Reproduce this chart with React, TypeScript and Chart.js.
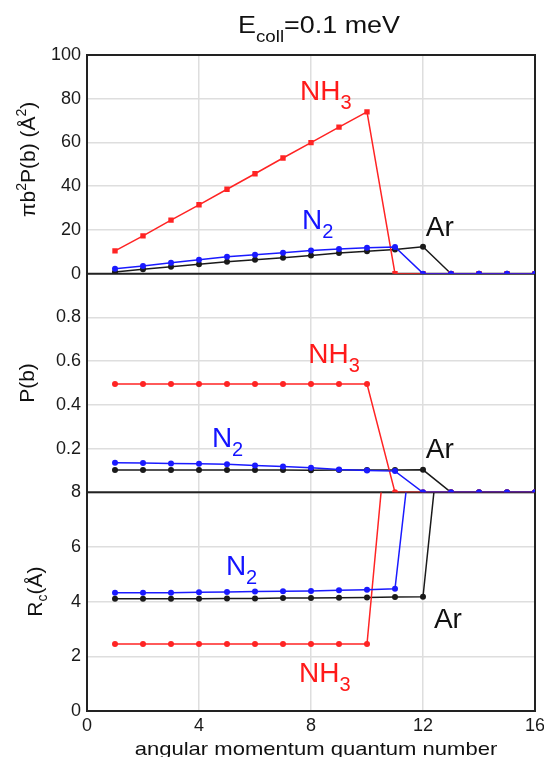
import React, { useEffect, useRef } from "react";
import { Chart, registerables } from "chart.js";

Chart.register(...registerables);

// ---------- data ----------
const angularMomentum = [1, 2, 3, 4, 5, 6, 7, 8, 9, 10, 11, 12, 13, 14, 15, 16];

// cross section  pi b^2 P(b)  (Å^2)
const nh3Sigma = [10.4, 17.3, 24.5, 31.5, 38.6, 45.7, 52.9, 59.9, 67.0, 74.0, 0, 0, 0, 0, 0, 0];
const n2Sigma = [2.3, 3.5, 5.0, 6.4, 7.7, 8.7, 9.6, 10.6, 11.3, 11.9, 12.2, 0, 0, 0, 0, 0];
const arSigma = [0.8, 2.0, 3.2, 4.3, 5.4, 6.4, 7.3, 8.3, 9.4, 10.3, 11.0, 12.3, 0, 0, 0, 0];

// probability P(b)
const nh3Prob = [0.495, 0.495, 0.495, 0.495, 0.495, 0.495, 0.495, 0.495, 0.495, 0.495, 0, 0, 0, 0, 0, 0];
const n2Prob = [0.135, 0.134, 0.132, 0.131, 0.128, 0.123, 0.118, 0.112, 0.104, 0.1, 0.097, 0, 0, 0, 0, 0];
const arProb = [0.102, 0.102, 0.102, 0.102, 0.102, 0.102, 0.102, 0.101, 0.102, 0.102, 0.102, 0.103, 0, 0, 0, 0];

// capture radius R_c (Å)
const nh3Rc = [2.45, 2.45, 2.45, 2.45, 2.45, 2.45, 2.45, 2.45, 2.45, 2.45, 13.5];
const n2Rc = [4.33, 4.33, 4.33, 4.34, 4.35, 4.37, 4.38, 4.39, 4.42, 4.44, 4.47, 13.5];
const arRc = [4.11, 4.11, 4.11, 4.11, 4.12, 4.12, 4.13, 4.13, 4.14, 4.15, 4.17, 4.18, 14.0];

// axis ticks
const xTicks = [0, 4, 8, 12, 16];
const sigmaTicks = [0, 20, 40, 60, 80, 100];
const probTicks = [0.2, 0.4, 0.6, 0.8];
const rcTicks = [0, 2, 4, 6, 8];

// in-plot labels: [text, subscript, axis, x, y]
const labelText = ["NH", "N", "Ar", "NH", "N", "Ar", "N", "Ar", "NH"];
const labelSub = ["3", "2", "", "3", "2", "", "2", "", "3"];
const labelAxis = ["yS", "yS", "yS", "yP", "yP", "yP", "yR", "yR", "yR"];
const labelX = [7.61, 7.68, 12.1, 7.9, 4.46, 12.1, 4.96, 12.39, 7.57];
const labelY = [79.2, 20.5, 17.3, 0.593, 0.206, 0.155, 4.99, 3.05, 1.06];
const labelColor = ["#ff1a1a", "#1414ff", "#111111", "#ff1a1a", "#1414ff", "#111111", "#1414ff", "#111111", "#ff1a1a"];

const FONT = '"Liberation Sans", Arial, Helvetica, sans-serif';
const RED = "#ff2424";
const BLUE = "#1a1aff";
const BLACK = "#1a1a1a";
const GRID = "#dedede";

function pts(values: number[]) {
  return values.map((v, i) => ({ x: angularMomentum[i], y: v }));
}

type Part = { t: string; size: number; dy: number };

function richWidth(ctx: CanvasRenderingContext2D, parts: Part[]) {
  let w = 0;
  for (const p of parts) {
    ctx.font = `${p.size}px ${FONT}`;
    w += ctx.measureText(p.t).width;
  }
  return w;
}

function drawRich(ctx: CanvasRenderingContext2D, parts: Part[], x0: number) {
  let x = x0;
  for (const p of parts) {
    ctx.font = `${p.size}px ${FONT}`;
    ctx.fillText(p.t, x, p.dy);
    x += ctx.measureText(p.t).width;
  }
}

const decorPlugin = {
  id: "decor",
  beforeDatasetsDraw(chart: any) {
    const { ctx, chartArea: a, scales } = chart;
    ctx.save();
    ctx.strokeStyle = "#222";
    ctx.lineWidth = 2;
    const seps = [scales.yS.getPixelForValue(0), scales.yR.getPixelForValue(8)];
    for (const y of seps) {
      ctx.beginPath();
      ctx.moveTo(a.left, y);
      ctx.lineTo(a.right, y);
      ctx.stroke();
    }
    ctx.strokeRect(a.left, a.top, a.right - a.left, a.bottom - a.top);
    ctx.restore();
  },
  beforeDatasetDraw(chart: any, args: any) {
    const ds = chart.data.datasets[args.index];
    if (ds.yAxisID === "yR") {
      const { ctx, chartArea: a } = chart;
      const s = chart.scales.yR;
      ctx.save();
      ctx.beginPath();
      ctx.rect(a.left - 10, s.top, a.right - a.left + 20, s.bottom - s.top + 10);
      ctx.clip();
    }
  },
  afterDatasetDraw(chart: any, args: any) {
    const ds = chart.data.datasets[args.index];
    if (ds.yAxisID === "yR") chart.ctx.restore();
  },
  afterDraw(chart: any) {
    const { ctx, scales } = chart;
    ctx.save();
    ctx.textBaseline = "alphabetic";
    ctx.textAlign = "left";

    // in-plot labels
    for (let i = 0; i < labelText.length; i++) {
      const sc = scales[labelAxis[i]];
      const px = scales.x.getPixelForValue(labelX[i]);
      const py = sc.getPixelForValue(labelY[i]);
      ctx.fillStyle = labelColor[i];
      ctx.save();
      ctx.translate(px, py);
      drawRich(ctx, [
        { t: labelText[i], size: 28, dy: 0 },
        { t: labelSub[i], size: 20, dy: 9 },
      ], 0);
      ctx.restore();
    }

    // title
    ctx.fillStyle = "#111";
    const titleParts: Part[] = [
      { t: "E", size: 23, dy: 0 },
      { t: "coll", size: 16, dy: 9 },
      { t: "=0.1 meV", size: 23, dy: 0 },
    ];
    const sx = 1.17;
    const tw = richWidth(ctx, titleParts) * sx;
    ctx.save();
    ctx.translate(319 - tw / 2, 33);
    ctx.scale(sx, 1);
    drawRich(ctx, titleParts, 0);
    ctx.restore();

    // x title
    const xParts: Part[] = [{ t: "angular momentum quantum number", size: 19, dy: 0 }];
    const xs = 1.16;
    const xw = richWidth(ctx, xParts) * xs;
    ctx.save();
    ctx.translate(316 - xw / 2, 755);
    ctx.scale(xs, 1);
    drawRich(ctx, xParts, 0);
    ctx.restore();

    // y titles (rotated)
    const yTitles: { parts: Part[]; bx: number; cy: number }[] = [
      {
        parts: [
          { t: "\u03c0b", size: 21, dy: 0 },
          { t: "2", size: 14, dy: -9 },
          { t: "P(b) (\u00c5", size: 21, dy: 0 },
          { t: "2", size: 14, dy: -9 },
          { t: ")", size: 21, dy: 0 },
        ],
        bx: 35,
        cy: (scales.yS.top + scales.yS.bottom) / 2 - 5,
      },
      {
        parts: [{ t: "P(b)", size: 21, dy: 0 }],
        bx: 34,
        cy: (scales.yP.top + scales.yP.bottom) / 2,
      },
      {
        parts: [
          { t: "R", size: 21, dy: 0 },
          { t: "c", size: 14, dy: 5 },
          { t: "(\u00c5)", size: 21, dy: 0 },
        ],
        bx: 42,
        cy: (scales.yR.top + scales.yR.bottom) / 2 - 10,
      },
    ];
    for (const yt of yTitles) {
      const w = richWidth(ctx, yt.parts);
      ctx.save();
      ctx.translate(yt.bx, yt.cy);
      ctx.rotate(-Math.PI / 2);
      drawRich(ctx, yt.parts, -w / 2);
      ctx.restore();
    }
    ctx.restore();
  },
};

function fixedWidth(w: number) {
  return (scale: any) => {
    scale.width = w;
    scale.paddingTop = 0;
    scale.paddingBottom = 0;
  };
}

export default function App() {
  const ref = useRef<HTMLCanvasElement | null>(null);

  useEffect(() => {
    if (!ref.current) return;
    const line = (label: string, data: number[], color: string, axis: string, style: string = "circle", r = 3) => ({
      label,
      data: pts(data),
      yAxisID: axis,
      borderColor: color,
      backgroundColor: color,
      borderWidth: 1.5,
      pointRadius: r,
      pointHoverRadius: r,
      pointStyle: style,
      pointBorderWidth: 0,
      tension: 0,
    });

    const tickFont = { family: FONT, size: 18 };
    const yTickOpts = { font: tickFont, color: "#1a1a1a", padding: 6, autoSkip: false };
    const chart = new Chart(ref.current, {
      type: "line",
      data: {
        datasets: [
          line("N2 sigma", n2Sigma, BLUE, "yS"),
          line("NH3 sigma", nh3Sigma, RED, "yS", "rect", 3.8),
          line("Ar sigma", arSigma, BLACK, "yS"),
          line("N2 P", n2Prob, BLUE, "yP"),
          line("NH3 P", nh3Prob, RED, "yP"),
          line("Ar P", arProb, BLACK, "yP"),
          line("N2 Rc", n2Rc, BLUE, "yR"),
          line("NH3 Rc", nh3Rc, RED, "yR"),
          line("Ar Rc", arRc, BLACK, "yR"),
        ] as any,
      },
      options: {
        animation: false,
        responsive: false,
        events: [],
        layout: { padding: { left: 44, right: 9, top: 55, bottom: 22 } },
        plugins: { legend: { display: false }, tooltip: { enabled: false }, title: { display: false } },
        scales: {
          x: {
            type: "linear",
            min: 0,
            max: 16,
            afterFit: (s: any) => {
              s.height = 24;
              s.paddingLeft = 0;
              s.paddingRight = 0;
            },
            afterBuildTicks: (s: any) => {
              s.ticks = xTicks.map((v) => ({ value: v }));
            },
            ticks: { font: tickFont, color: "#1a1a1a", padding: 4, maxRotation: 0, autoSkip: false },
            grid: { color: GRID, lineWidth: 1.5, drawTicks: false },
            border: { display: false },
          },
          yR: {
            type: "linear",
            position: "left",
            stack: "panels",
            stackWeight: 1,
            min: 0,
            max: 8,
            afterFit: fixedWidth(43),
            afterBuildTicks: (s: any) => {
              s.ticks = rcTicks.map((v) => ({ value: v }));
            },
            ticks: yTickOpts,
            grid: { color: GRID, lineWidth: 1.5, drawTicks: false },
            border: { display: false },
          },
          yP: {
            type: "linear",
            position: "left",
            stack: "panels",
            stackWeight: 1,
            min: 0,
            max: 1,
            afterFit: fixedWidth(43),
            afterBuildTicks: (s: any) => {
              s.ticks = probTicks.map((v) => ({ value: v }));
            },
            ticks: { ...yTickOpts, callback: (v: any) => Number(v).toFixed(1) },
            grid: { color: GRID, lineWidth: 1.5, drawTicks: false },
            border: { display: false },
          },
          yS: {
            type: "linear",
            position: "left",
            stack: "panels",
            stackWeight: 1,
            min: 0,
            max: 100,
            afterFit: fixedWidth(43),
            afterBuildTicks: (s: any) => {
              s.ticks = sigmaTicks.map((v) => ({ value: v }));
            },
            ticks: yTickOpts,
            grid: { color: GRID, lineWidth: 1.5, drawTicks: false },
            border: { display: false },
          },
        },
      } as any,
      plugins: [decorPlugin as any],
    });
    return () => chart.destroy();
  }, []);

  return (
    <div style={{ position: "absolute", left: 0, top: 0, width: 544, height: 757, background: "#fff" }}>
      <canvas ref={ref} width={544} height={757} style={{ display: "block" }} />
    </div>
  );
}
